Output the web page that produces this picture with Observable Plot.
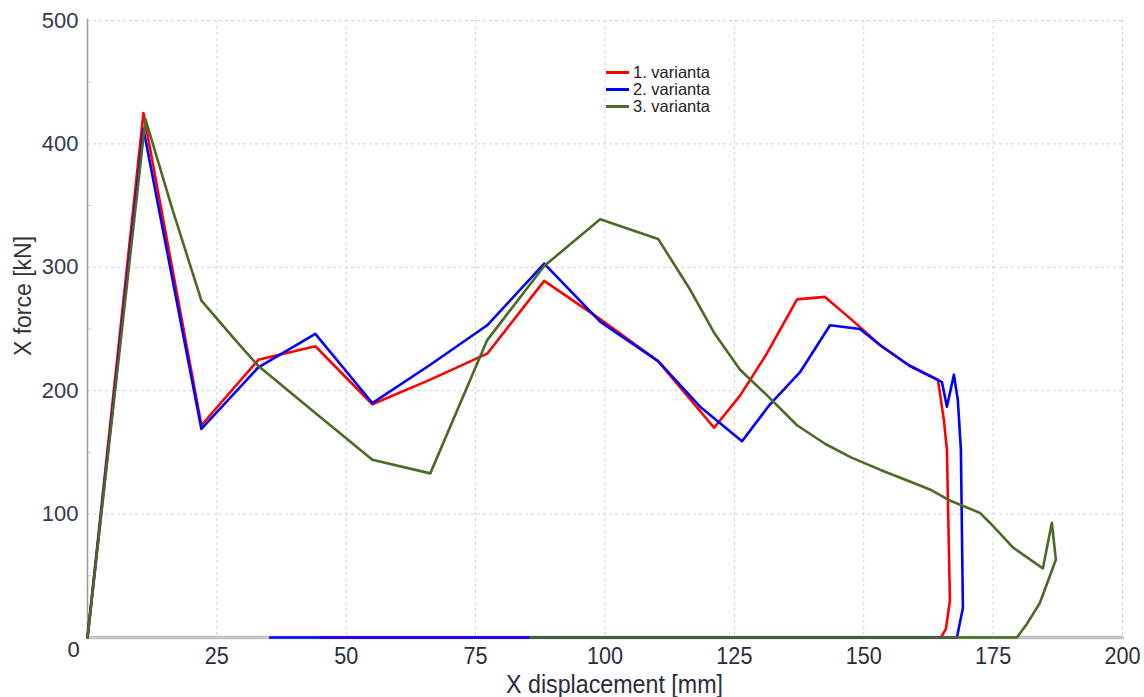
<!DOCTYPE html>
<html><head><meta charset="utf-8">
<script src="https://cdn.jsdelivr.net/npm/d3@7"></script>
<script src="https://cdn.jsdelivr.net/npm/@observablehq/plot@0.6"></script>
<style>
body{margin:0;background:#fff;}
#wrap{position:relative;width:1144px;height:697px;overflow:hidden;background:#fff;}
#legend{position:absolute;left:606px;top:64px;font:16.5px "Liberation Sans",Arial,sans-serif;color:#222;line-height:17px;}
#legend .row{display:flex;align-items:center;height:17px;}
#legend .sw{display:inline-block;width:23px;height:3px;margin-right:4px;}
</style></head>
<body><div id="wrap"><div id="chart"></div><div id="legend"></div></div>
<script>
const seriesNames = ["1. varianta", "2. varianta", "3. varianta"];
const seriesColors = ["#ff0000", "#0000ff", "#4b6a26"];

const x1 = [0,10.81,22.01,33.02,44.03,55.04,66.24,77.24,88.25,99.06,110.26,121.08,126.1,131.12,137.11,142.51,147.53,153.13,158.54,164.33,165.49,166.07,166.65,165.88,164.91,45];
const y1 = [0,425,172,225,236,189,209,230,289,258,224,170,196,229,274,276,258,237,221,209,176,152,30,7,0,0];

const x2 = [0,10.81,22.01,33.02,44.03,55.04,66.24,77.24,88.25,99.06,110.26,118.37,126.48,131.89,137.68,143.48,149.27,153.13,158.93,165.11,166.07,167.42,168.19,168.77,169.16,168.0,35.3];
const y2 = [0,412,169,219,246,190,221,253,303,256,224,187,159,189,215,253,250,237,220,207,187,213,192,152,24,0,0];

const x3 = [0,11.2,16.41,22.01,28.58,33.02,44.03,55.04,66.24,77.24,88.25,99.06,110.26,116.44,121.08,126.1,131.12,137.11,142.51,147.53,153.13,158.54,162.79,166.65,172.44,174.37,178.82,184.61,186.35,187.12,184.03,181.52,179.59,85.55];
const y3 = [0,420,347,273,241,220,182,144,133,241,301,339,323,282,247,217,197,172,157,146,136,127,120,111,101,93,73,56,93,63,28,11,0,0];

const xTicks = [25,50,75,100,125,150,175,200];
const xGrid = [25,50,75,100,125,150,175,200];
const yTicks = [100,200,300,400,500];
const yMinor = [50,150,250,350,450];

const xs = [x1, x2, x3], ys = [y1, y2, y3];
const rows = [];
seriesNames.forEach((s, i) => xs[i].forEach((x, j) => rows.push({series: s, x, y: ys[i][j]})));

const sans = '"Liberation Sans",Arial,sans-serif';

const chart = Plot.plot({
  width: 1144, height: 697,
  marginLeft: 87, marginRight: 22, marginTop: 20, marginBottom: 60,
  style: {background: "#fff", fontFamily: sans, overflow: "visible"},
  x: {domain: [0, 200]},
  y: {domain: [0, 500]},
  color: {domain: seriesNames, range: seriesColors},
  marks: [
    Plot.gridX(xGrid, {stroke: "#d2d2d2", strokeOpacity: 1, strokeDasharray: "3,3"}),
    Plot.gridY(yTicks, {stroke: "#d2d2d2", strokeOpacity: 1, strokeDasharray: "3,3"}),
    Plot.ruleY(yMinor, {x1: 0, x2: 0.8, stroke: "#c8c8c8"}),
    Plot.ruleY([0], {x1: 0, x2: 200.3, stroke: "#c4c4c4", strokeWidth: 3.5}),
    Plot.ruleX([0], {y1: 0, y2: 501, stroke: "#999", strokeWidth: 1.5}),
    Plot.axisX(xTicks, {tickSize: 0, tickPadding: 9, fontSize: 24, fontFamily: sans, fill: "#2a2c3c", label: null}),
    Plot.axisY(yTicks, {tickSize: 0, tickPadding: 9, fontSize: 22, fontFamily: sans, fill: "#363850", label: null}),
    Plot.text(["0"], {x: 0, y: 0, dx: -14, dy: 12, fontSize: 22, fill: "#2a2c3c", fontFamily: sans}),
    Plot.line(rows, {x: "x", y: "y", z: "series", stroke: "series", strokeWidth: 2.6, strokeLinejoin: "round"}),
    Plot.text(["X displacement [mm]"], {frameAnchor: "bottom", dx: 9.5, dy: 55, fontSize: 25, fill: "#2a2c3c", fontFamily: sans}),
    Plot.text(["X force [kN]"], {frameAnchor: "left", textAnchor: "middle", dx: -64, dy: -33, rotate: -90, fontSize: 23, fill: "#3a3030", fontFamily: sans})
  ]
});
document.getElementById("chart").appendChild(chart);

// condense the bottom texts horizontally (narrow face in the original)
function condense(nodes, sx) {
  nodes.forEach(t => {
    let tr = t.getAttribute("transform") || "";
    const xa = t.getAttribute("x");
    if (xa !== null && isFinite(+xa)) {
      t.removeAttribute("x");
      tr = tr + ` translate(${+xa},0)`;
    }
    t.setAttribute("transform", (tr + ` scale(${sx},1)`).trim());
  });
}
condense(chart.querySelectorAll('g[aria-label="x-axis tick label"] text'), 0.9);
condense([...chart.querySelectorAll('g[aria-label="text"] text')].filter(t => t.textContent === "X displacement [mm]"), 0.93);

const legend = document.getElementById("legend");
seriesNames.forEach((s, i) => {
  const r = document.createElement("div");
  r.className = "row";
  const sw = document.createElement("span");
  sw.className = "sw";
  sw.style.background = seriesColors[i];
  r.appendChild(sw);
  r.appendChild(document.createTextNode(s));
  legend.appendChild(r);
});
</script></body></html>
